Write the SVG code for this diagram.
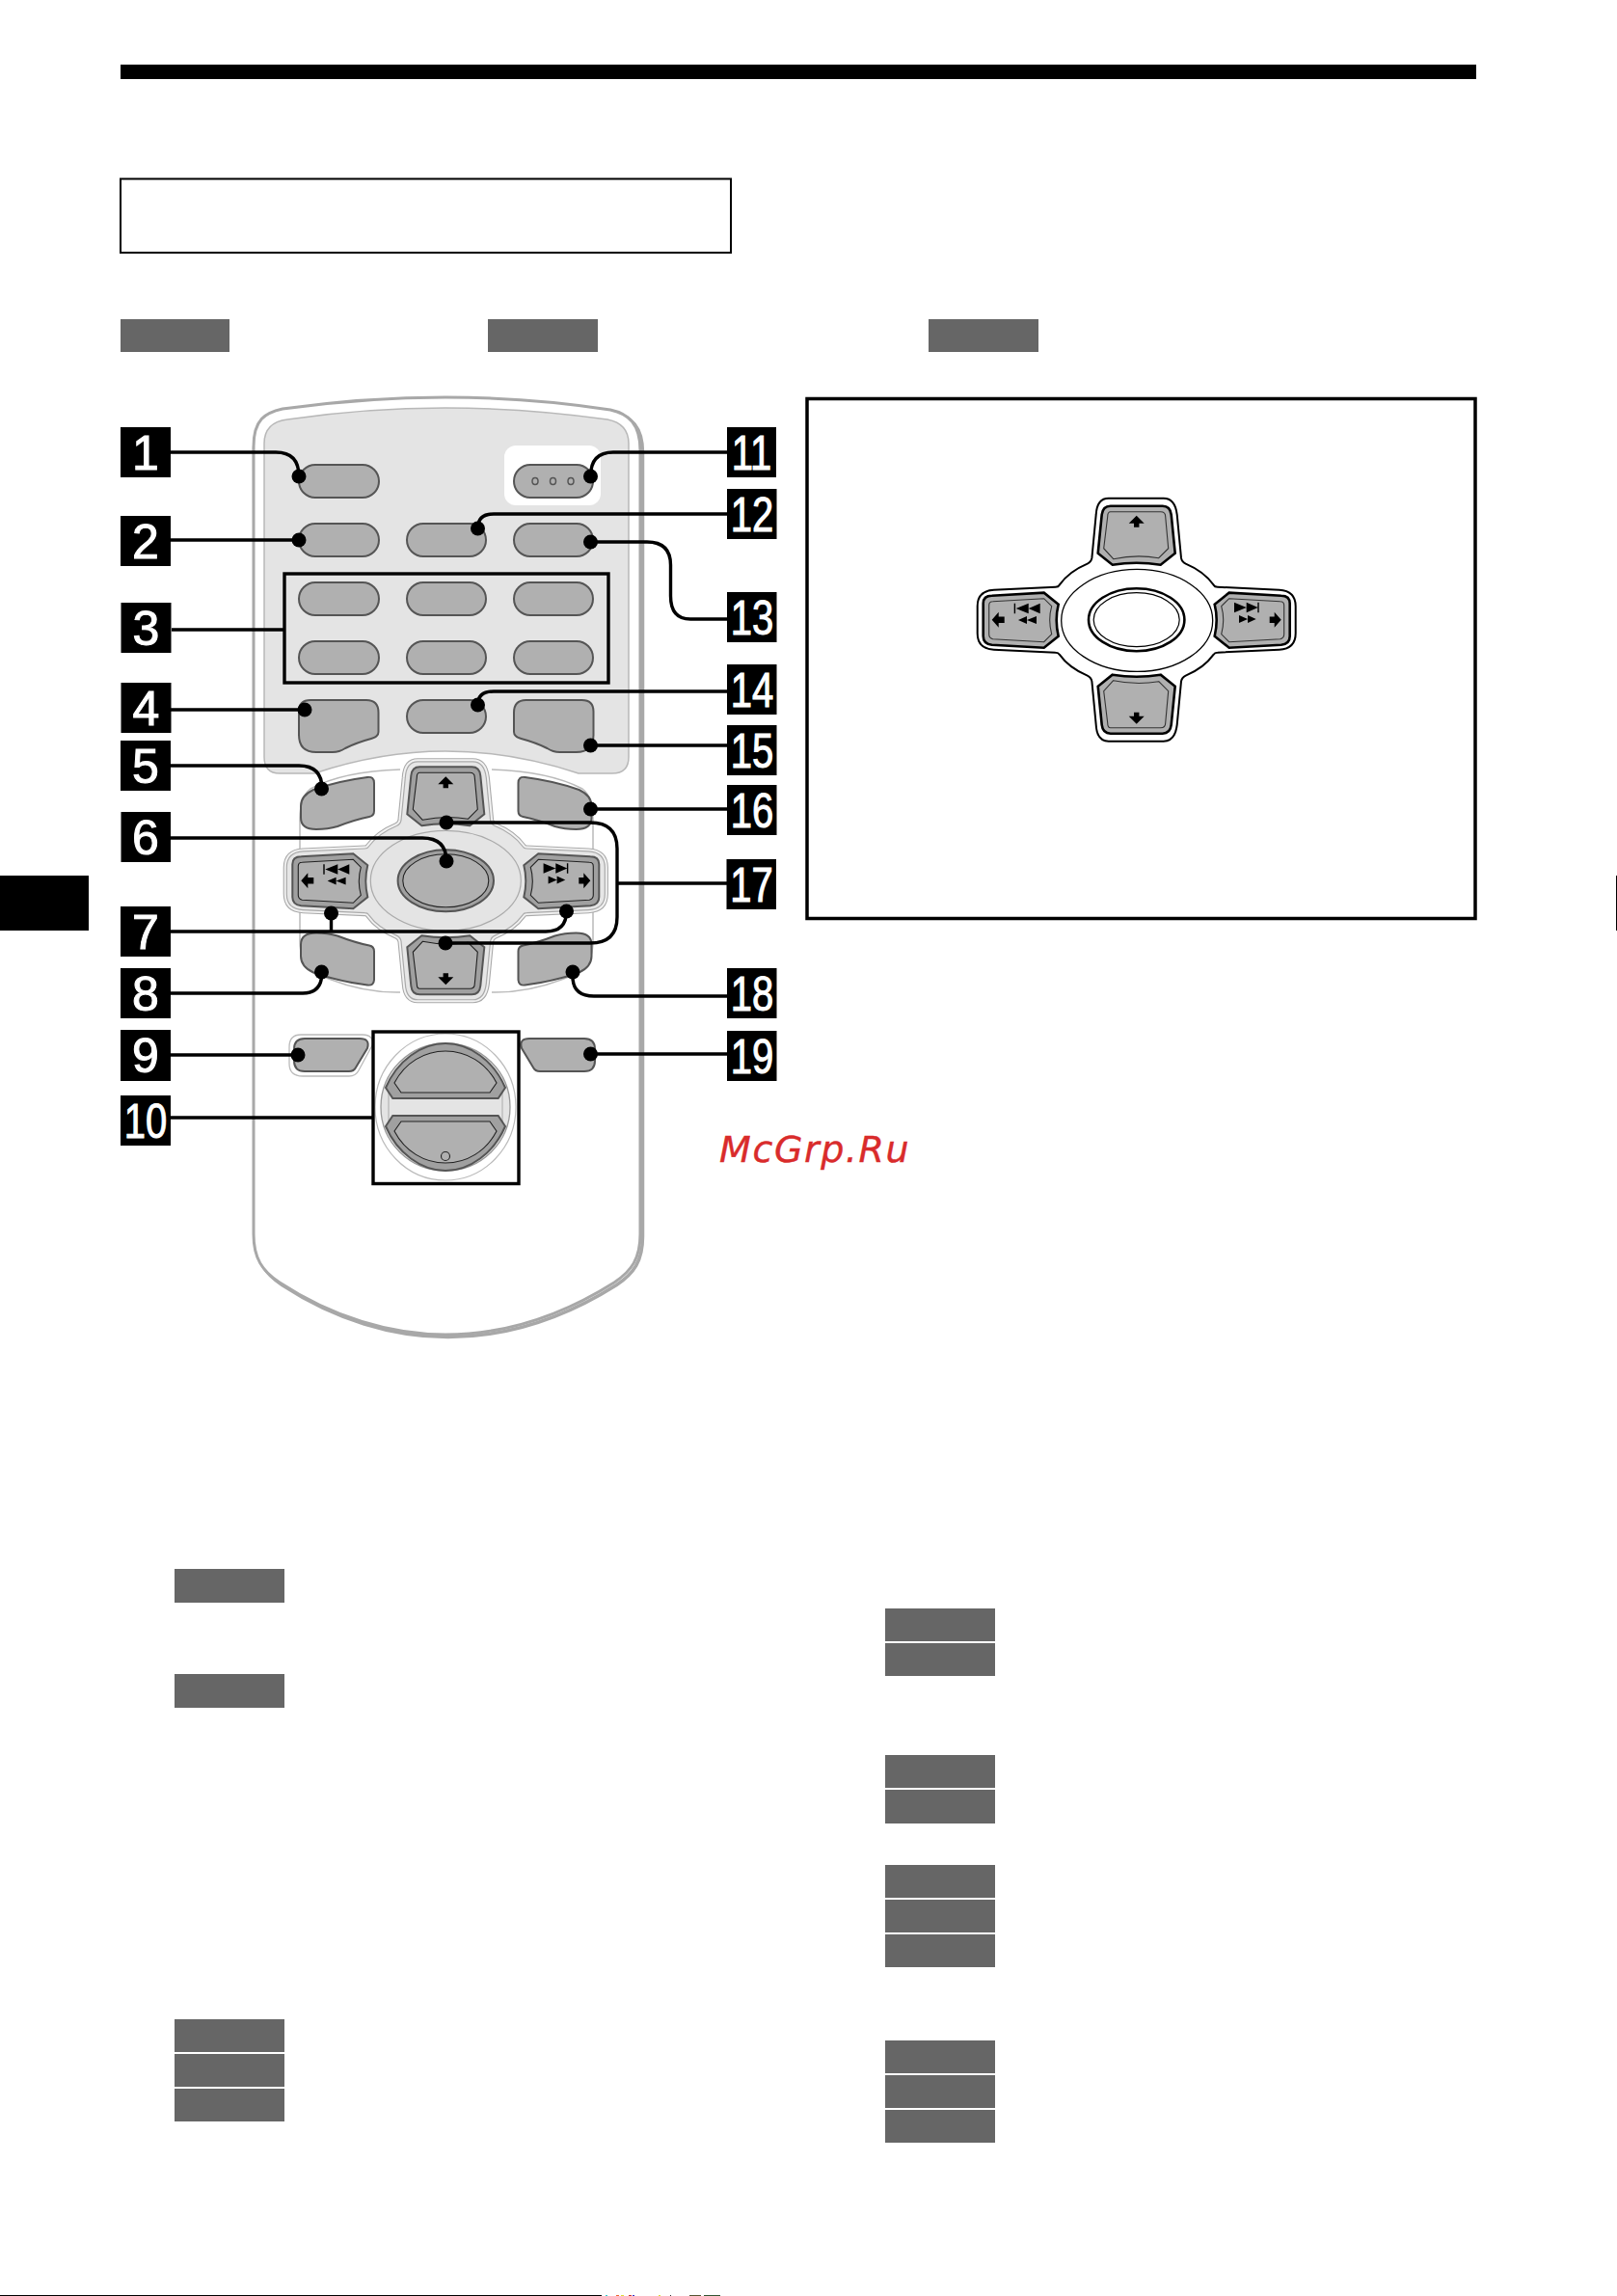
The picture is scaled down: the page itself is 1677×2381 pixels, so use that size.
<svg xmlns="http://www.w3.org/2000/svg" xmlns:xlink="http://www.w3.org/1999/xlink" width="1677" height="2381" viewBox="0 0 1677 2381">
<style>
.tag{fill:#666}
.k{fill:#000}
.btn{fill:#b0b0b0;stroke:#555;stroke-width:2}
.num{font-family:"Liberation Sans",Arial,sans-serif;font-weight:400;font-size:50px;fill:#fff;stroke:#fff;stroke-width:1;text-anchor:middle}
.lbl{fill:#000}
.lead{fill:none;stroke:#000;stroke-width:3.4}
.dot{fill:#000}
.band{fill:#a0a0a0;stroke:#555;stroke-width:2}
.inner{fill:#b0b0b0;stroke:#222;stroke-width:1.1}
.bandK{fill:#b0b0b0;stroke:#000;stroke-width:2.6}
.innerK{fill:#b0b0b0;stroke:#333;stroke-width:1.1}
</style>
<defs>
<path id="dp-o" d="M-29-126H28Q40-126 42-109L46.3-64Q47-60 51-58Q70-50 80-36Q81-34 84-34L148-31Q165-30 165-14V14Q165 30 148 31L84 34Q81 34 80 36Q70 50 51 58Q47 60 46.3 64L42 109Q40 126 28 126H-29Q-41 126-42 109L-46.3 64Q-47 60-51 58Q-70 50-80 36Q-81 34-84 34L-148 31Q-165 30-165 14V-14Q-165-30-148-31L-84-34Q-81-34-80-36Q-70-50-51-58Q-47-60-46.3-64L-42-109Q-41-126-29-126Z"/>
<path id="dp-t" d="M-27-118H27Q35-118 36-109L40-69L25-57Q0-61-25-57L-40-69L-36-109Q-35-118-27-118Z"/>
<path id="dp-ti" d="M-27-112H25Q30-112 30-107L33-74L23-64Q0-68-24-63L-34-74L-30-107Q-30-112-27-112Z"/>
<path id="dp-r" d="M81-16L96-28L150-25Q159-25 159-17V17Q159 25 150 26L96 29L81 17Q85 0 81-16Z"/>
<path id="dp-ri" d="M88-14L96-22L149-19Q153-19 153-15V15Q153 19 149 20L96 23L88 15Q92 0 88-14Z"/>
<g id="dp-icons" fill="#000">
<path d="M0-108L8-100H2.7V-96H-2.7V-100H-8Z"/>
<path d="M0 108L8 100H2.7V96H-2.7V100H-8Z"/>
<path d="M-150 0L-143-8V-3.3H-137V3.3H-143V8Z"/>
<path d="M150 0L143-8V-3.3H138V3.3H143V8Z"/>
<path d="M-127-17H-125.6V-6.5H-127ZM-125-11.7L-112-17V-6.5ZM-112-11.7L-100-17V-6.5Z"/>
<path d="M-122.7 .3L-113.7-3.6V4.2ZM-113.7 .3L-103.7-3.6V4.2Z"/>
<path d="M101.3-18L114-12.7L101.3-7.5ZM114-18L126-12.7L114-7.5ZM125.6-18H127V-7.5H125.6Z"/>
<path d="M106.3-4.7L115.3-.8L106.3 3.2ZM115.3-4.7L124-.8L115.3 3.2Z"/>
</g>
<path id="corner" d="M381 806Q388 805 388 812V841Q388 846 383 847Q368 850 350 857Q340 860 328 860Q312 860 312 848V836Q312 825 325 819Q350 810 381 806Z"/>
<path id="big" d="M322 726H380Q392.500 726 392.500 739V759Q392.500 764 385 766Q370 770 358 776Q352 780 345 780H328Q310 780 310 762V738Q310 726 322 726Z"/>
<path id="side" d="M316 1077H373Q384 1077 381 1087L369 1107Q367 1111 362 1111H316Q305 1111 305 1100V1088Q305 1077 316 1077Z"/>
<path id="knob" d="M400 1128C412 1100 437 1082 462 1082C487 1082 512 1100 524 1128L516.700 1139H407.300Z"/>
<path id="knobi" d="M409 1123C420 1102 440 1090 462 1090C484 1090 504 1102 515 1123L508 1133H416Z"/>
</defs>

<g id="page">
<rect class="k" x="125" y="67" width="1406" height="15"/>
<rect x="125" y="185.500" width="633" height="76.500" fill="#fff" stroke="#000" stroke-width="2"/>
<rect class="tag" x="125" y="331" width="113" height="34"/>
<rect class="tag" x="506" y="331" width="114" height="34"/>
<rect class="tag" x="963" y="331" width="114" height="34"/>
<rect class="k" x="0" y="908" width="92" height="57"/>
<rect class="k" x="1676" y="908" width="1" height="57"/>
<rect class="tag" x="181" y="1627" width="114" height="35"/>
<rect class="tag" x="181" y="1736" width="114" height="35"/>
<rect class="tag" x="181" y="2094" width="114" height="34"/>
<rect class="tag" x="181" y="2130" width="114" height="34"/>
<rect class="tag" x="181" y="2166" width="114" height="34"/>
<rect class="tag" x="918" y="1668" width="114" height="34"/>
<rect class="tag" x="918" y="1704" width="114" height="34"/>
<rect class="tag" x="918" y="1820" width="114" height="34"/>
<rect class="tag" x="918" y="1856" width="114" height="35"/>
<rect class="tag" x="918" y="1934" width="114" height="34"/>
<rect class="tag" x="918" y="1970" width="114" height="34"/>
<rect class="tag" x="918" y="2006" width="114" height="34"/>
<rect class="tag" x="918" y="2116" width="114" height="34"/>
<rect class="tag" x="918" y="2152" width="114" height="34"/>
<rect class="tag" x="918" y="2188" width="114" height="34"/>
<rect class="k" x="0" y="2380" width="624" height="1"/>
<rect x="628" y="2380" width="2" height="1" fill="#3cc"/>
<rect x="639" y="2380" width="3" height="1" fill="#e63"/>
<rect x="644" y="2380" width="3" height="1" fill="#dd3"/>
<rect x="652" y="2380" width="3" height="1" fill="#c33"/>
<rect x="656" y="2380" width="2" height="1" fill="#33c"/>
<rect x="683" y="2380" width="2" height="1" fill="#dd3"/>
<rect x="695" y="2380" width="1" height="1" fill="#333"/>
<rect x="715" y="2380" width="12" height="1" fill="#553"/>
<rect x="730" y="2380" width="17" height="1" fill="#353"/>
<text x="746" y="1205" font-family="'DejaVu Sans',sans-serif" font-style="italic" font-size="38" letter-spacing="1.600" fill="#d92b2b" stroke="#d92b2b" stroke-width=".4">McGrp.Ru</text>
</g>

<g id="remote">
<path transform="translate(2.500 2.500)" d="M261 463C261 435 275 428 293 424Q380 412 462 412Q550 412 633 425C652 429 664 440 664 467V1280C664 1305 655 1318 637 1330C580 1366 520 1384 462 1384C405 1384 345 1366 290 1330C272 1318 263 1305 263 1280Z" fill="#fff" stroke="#a8a8a8" stroke-width="3.500"/>
<path d="M263 463C263 435 275 428 293 424Q380 412 462 412Q550 412 633 425C652 429 664 440 664 467V1280C664 1305 655 1318 637 1330C580 1366 520 1384 462 1384C405 1384 345 1366 290 1330C272 1318 263 1305 263 1280Z" fill="#fff" stroke="#a8a8a8" stroke-width="3"/>
<path id="panel" d="M274 460C274 445 282 437 298 435Q380 423 462 423Q545 423 630 435C645 438 652 447 652 460V785Q652 802 635 802H600Q530 779 462 779Q395 779 326 802H290Q274 802 274 785Z" fill="#e4e4e4" stroke="#b8b8b8" stroke-width="1.500"/>
<rect id="patch" x="523" y="462" width="100" height="62" rx="12" fill="#fff"/>
</g>

<g id="buttons">
<g id="btn-1"><rect class="btn" x="310" y="482" width="83" height="34" rx="17"/></g>
<g id="btn-11"><rect class="btn" x="533" y="482" width="82" height="34" rx="17"/>
<g fill="none" stroke="#555" stroke-width="1.500"><ellipse cx="555" cy="499" rx="3" ry="3.500"/><ellipse cx="573.500" cy="499" rx="3" ry="3.500"/><ellipse cx="592" cy="499" rx="3" ry="3.500"/></g></g>
<g id="btn-2"><rect class="btn" x="310" y="543" width="83" height="34" rx="17"/></g>
<g id="btn-12"><rect class="btn" x="422" y="543" width="82" height="34" rx="17"/></g>
<g id="btn-13"><rect class="btn" x="533" y="543" width="82" height="34" rx="17"/></g>
<g id="btn-3"><rect class="btn" x="310" y="604" width="83" height="34" rx="17"/><rect class="btn" x="422" y="604" width="82" height="34" rx="17"/><rect class="btn" x="533" y="604" width="82" height="34" rx="17"/><rect class="btn" x="310" y="665" width="83" height="34" rx="17"/><rect class="btn" x="422" y="665" width="82" height="34" rx="17"/><rect class="btn" x="533" y="665" width="82" height="34" rx="17"/></g>
<g id="btn-14"><rect class="btn" x="422" y="726" width="82" height="34" rx="17"/></g>
<g id="btn-4"><use href="#big" class="btn"/></g>
<g id="btn-15"><use href="#big" class="btn" transform="translate(925.500 0) scale(-1 1)"/></g>
<path id="dpad-back" d="M415 798Q355 800 322 818Q311 826 311 850V975Q311 1000 325 1008Q370 1030 415 1029M510 798Q570 800 604 818Q615 826 615 850V975Q615 1000 601 1008Q555 1030 510 1029" fill="#fff" stroke="#bbb" stroke-width="1.500"/>
<g id="btn-5"><use href="#corner" class="btn"/></g>
<g id="btn-16"><use href="#corner" class="btn" transform="translate(925.500 0) scale(-1 1)"/></g>
<g id="btn-8"><use href="#corner" class="btn" transform="translate(0 1827.500) scale(1 -1)"/></g>
<g id="btn-18"><use href="#corner" class="btn" transform="translate(925.500 1827.500) scale(-1 -1)"/></g>
<g id="dpad" transform="translate(462.300 913.300)">
<use href="#dp-o" transform="scale(1 .98)" fill="#f2f2f2" stroke="#aaa" stroke-width="7.200"/>
<use href="#dp-o" transform="scale(1 .98)" fill="#ececec" stroke="#f2f2f2" stroke-width="5"/>
<use href="#dp-o" transform="scale(1 .98)" fill="#e6e6e6" stroke="#aaa" stroke-width="1.200"/>
<ellipse cx="0" cy="0" rx="78" ry="52" fill="#e4e4e4" stroke="#aaa" stroke-width="1.200"/>
<use href="#dp-t" class="band"/><use href="#dp-ti" class="inner"/>
<use href="#dp-t" class="band" transform="scale(1 -1)"/><use href="#dp-ti" class="inner" transform="scale(1 -1)"/>
<use href="#dp-r" class="band"/><use href="#dp-ri" class="inner"/>
<use href="#dp-r" class="band" transform="scale(-1 1)"/><use href="#dp-ri" class="inner" transform="scale(-1 1)"/>
<use href="#dp-icons"/>
<ellipse rx="49.700" ry="32" fill="#a0a0a0" stroke="#555" stroke-width="2"/>
<ellipse rx="44.500" ry="27.500" fill="#b0b0b0" stroke="#222" stroke-width="1.100"/>
</g>
<g id="btn-9"><path d="M312 1073H376Q388 1073 386 1084L372 1110Q369 1116 362 1116H314Q300 1116 300 1103V1086Q300 1073 312 1073Z" fill="#fff" stroke="#bbb" stroke-width="1.300"/><use href="#side" class="btn"/></g>
<g id="btn-19"><use href="#side" class="btn" transform="translate(922 0) scale(-1 1)"/></g>
<g id="btn-10">
<ellipse cx="462" cy="1148" rx="73" ry="76" fill="#fff" stroke="#bbb" stroke-width="1.200"/>
<ellipse cx="462" cy="1148" rx="67" ry="66" fill="#e4e4e4" stroke="#999" stroke-width="1.300"/>
<path d="M403 1128H521V1168H403Z" fill="none" stroke="#aaa" stroke-width="1"/>
<use href="#knob" class="band"/><use href="#knobi" class="inner"/>
<use href="#knob" class="band" transform="translate(0 2296) scale(1 -1)"/><use href="#knobi" class="inner" transform="translate(0 2296) scale(1 -1)"/>
<circle cx="462" cy="1199" r="4.500" fill="none" stroke="#222" stroke-width="1.100"/>
</g>
</g>

<g id="inset">
<rect x="837" y="413.500" width="693" height="539" fill="#fff" stroke="#000" stroke-width="3.500"/>
<g id="dpad-detail" transform="translate(1178.700 642.700)">
<use href="#dp-o" fill="#fff" stroke="#000" stroke-width="2"/>
<ellipse cx=".5" cy=".7" rx="78.500" ry="53" fill="#fff" stroke="#000" stroke-width="1.300"/>
<use href="#dp-t" class="bandK"/><use href="#dp-ti" class="innerK"/>
<use href="#dp-t" class="bandK" transform="scale(1 -1)"/><use href="#dp-ti" class="innerK" transform="scale(1 -1)"/>
<use href="#dp-r" class="bandK"/><use href="#dp-ri" class="innerK"/>
<use href="#dp-r" class="bandK" transform="scale(-1 1)"/><use href="#dp-ri" class="innerK" transform="scale(-1 1)"/>
<use href="#dp-icons"/>
<ellipse rx="49.700" ry="32.500" fill="#fff" stroke="#000" stroke-width="2.600"/>
<ellipse rx="44.500" ry="28" fill="#fff" stroke="#000" stroke-width="1.200"/>
</g>
</g>

<g id="connectors">
<rect class="lead" x="295" y="595" width="336" height="113"/>
<rect class="lead" x="387" y="1070" width="151" height="157.500"/>
<path class="lead" d="M177 469H286Q310 469 310 494"/>
<path class="lead" d="M177 560H310"/>
<path class="lead" d="M178 653H295"/>
<path class="lead" d="M177 736H316"/>
<path class="lead" d="M177 794H310Q334 794 334 818"/>
<path class="lead" d="M177 869H438Q463 869 463 893"/>
<path class="lead" d="M177 966H566Q587.500 966 587.500 945M343.500 947V966"/>
<path class="lead" d="M177 1030H314Q334 1030 334 1008"/>
<path class="lead" d="M177 1094H309"/>
<path class="lead" d="M177 1159H387"/>
<path class="lead" d="M754 469H636Q612.500 469 612.500 494"/>
<path class="lead" d="M754 533H512Q495.500 533 495.500 548"/>
<path class="lead" d="M612.500 562H671Q695.500 562 695.500 586V618Q695.500 642 716 642H754"/>
<path class="lead" d="M754 717H512Q495.500 717 495.500 731"/>
<path class="lead" d="M612.500 773H754"/>
<path class="lead" d="M612.500 839H754"/>
<path class="lead" d="M463 853H612Q640 853 640 880V951Q640 978 612 978H462M640 916H754"/>
<path class="lead" d="M594 1008V1013Q594 1033 616 1033H754"/>
<path class="lead" d="M612.500 1093H754"/>
<g class="dot">
<circle cx="310" cy="494" r="7.500"/><circle cx="310" cy="560" r="7.500"/><circle cx="316" cy="736" r="7.500"/><circle cx="333.500" cy="818" r="7.500"/><circle cx="463" cy="893" r="7.500"/><circle cx="587.500" cy="945" r="7.500"/><circle cx="343.500" cy="947" r="7.500"/><circle cx="333.500" cy="1008" r="7.500"/><circle cx="309" cy="1094" r="7.500"/><circle cx="612.500" cy="494" r="7.500"/><circle cx="495.500" cy="548" r="7.500"/><circle cx="612.500" cy="562" r="7.500"/><circle cx="495.500" cy="731" r="7.500"/><circle cx="612.500" cy="773" r="7.500"/><circle cx="612.500" cy="839" r="7.500"/><circle cx="463" cy="853" r="7.500"/><circle cx="462" cy="978" r="7.500"/><circle cx="594" cy="1008" r="7.500"/><circle cx="612.500" cy="1093" r="7.500"/>
</g>
</g>

<g id="labels">
<g id="n1"><rect class="lbl" x="125" y="443" width="52" height="52"/><text class="num" transform="translate(151 487)">1</text></g>
<g id="n2"><rect class="lbl" x="125" y="535" width="52" height="52"/><text class="num" transform="translate(151 579)">2</text></g>
<g id="n3"><rect class="lbl" x="125.500" y="625" width="52" height="52"/><text class="num" transform="translate(151.500 669)">3</text></g>
<g id="n4"><rect class="lbl" x="125.500" y="708" width="52" height="52"/><text class="num" transform="translate(151.500 752)">4</text></g>
<g id="n5"><rect class="lbl" x="125" y="768" width="52" height="52"/><text class="num" transform="translate(151 812)">5</text></g>
<g id="n6"><rect class="lbl" x="125.500" y="842" width="51.500" height="52"/><text class="num" transform="translate(151 886)">6</text></g>
<g id="n7"><rect class="lbl" x="125" y="940" width="52" height="52"/><text class="num" transform="translate(151 984)">7</text></g>
<g id="n8"><rect class="lbl" x="125" y="1004" width="52" height="52"/><text class="num" transform="translate(151 1048)">8</text></g>
<g id="n9"><rect class="lbl" x="125" y="1068" width="52" height="53"/><text class="num" transform="translate(151 1112)">9</text></g>
<g id="n10"><rect class="lbl" x="125" y="1136" width="52" height="52"/><text class="num" transform="translate(151 1180) scale(.8 1)">10</text></g>
<g id="n11"><rect class="lbl" x="754" y="443" width="51" height="52"/><text class="num" transform="translate(779.500 487) scale(.8 1)">11</text></g>
<g id="n12"><rect class="lbl" x="754" y="507" width="51.500" height="52"/><text class="num" transform="translate(780 551) scale(.8 1)">12</text></g>
<g id="n13"><rect class="lbl" x="754" y="614" width="51.500" height="52"/><text class="num" transform="translate(780 658) scale(.8 1)">13</text></g>
<g id="n14"><rect class="lbl" x="754" y="689" width="51.500" height="52"/><text class="num" transform="translate(780 733) scale(.8 1)">14</text></g>
<g id="n15"><rect class="lbl" x="754" y="752" width="51.500" height="52"/><text class="num" transform="translate(780 796) scale(.8 1)">15</text></g>
<g id="n16"><rect class="lbl" x="754" y="814" width="51.500" height="52"/><text class="num" transform="translate(780 858) scale(.8 1)">16</text></g>
<g id="n17"><rect class="lbl" x="753.500" y="891" width="51.500" height="52"/><text class="num" transform="translate(779.500 935) scale(.8 1)">17</text></g>
<g id="n18"><rect class="lbl" x="754" y="1004" width="51.500" height="52"/><text class="num" transform="translate(780 1048) scale(.8 1)">18</text></g>
<g id="n19"><rect class="lbl" x="754" y="1069" width="51.500" height="52"/><text class="num" transform="translate(780 1113) scale(.8 1)">19</text></g>
</g>
</svg>
